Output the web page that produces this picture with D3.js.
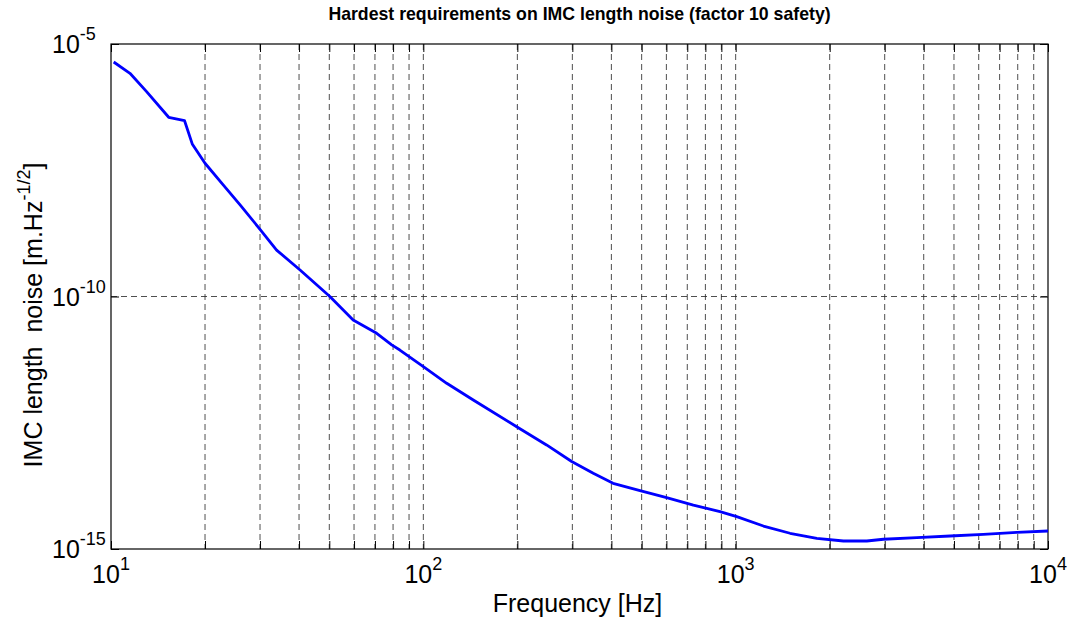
<!DOCTYPE html>
<html>
<head>
<meta charset="utf-8">
<script src="https://cdn.jsdelivr.net/npm/d3@7"></script>
<style>
  html, body { margin: 0; padding: 0; background: #fff; }
  svg { display: block; font-family: "Liberation Sans", Arial, sans-serif; }
</style>
</head>
<body>
<svg id="chart" width="1073" height="619"></svg>
<script>
const frequency = [10.2, 11.5, 13.0, 15.3, 17.2, 18.2, 20, 22.9, 25.9, 30, 33.9, 40.3, 50.2, 59.6, 70.9, 79.2, 84.1, 100, 118.8, 144.5, 199, 248, 298.5, 350, 405, 494, 601, 732, 891, 1008, 1227, 1493, 1819, 2213, 2630, 2972, 3802, 4860, 6210, 7943, 10000];
const noise = [4.4e-6, 2.63e-6, 1.14e-6, 3.54e-7, 3.03e-7, 1.05e-7, 4.35e-8, 1.61e-8, 6.5e-9, 2.14e-9, 8.3e-10, 3.35e-10, 1.0e-10, 3.43e-11, 1.87e-11, 1.10e-11, 8.7e-12, 4.1e-12, 1.91e-12, 8.9e-13, 2.64e-13, 1.15e-13, 5.4e-14, 3.15e-14, 2.0e-14, 1.43e-14, 1.04e-14, 7.4e-15, 5.5e-15, 4.37e-15, 2.85e-15, 2.05e-15, 1.63e-15, 1.44e-15, 1.44e-15, 1.56e-15, 1.68e-15, 1.81e-15, 1.95e-15, 2.14e-15, 2.27e-15];

const xMajorTicks = [10, 100, 1000, 10000];
const xMajorExp = ["1", "2", "3", "4"];
const xMinorTicks = [20, 30, 40, 50, 60, 70, 80, 90, 200, 300, 400, 500, 600, 700, 800, 900, 2000, 3000, 4000, 5000, 6000, 7000, 8000, 9000];
const yTicks = [1e-5, 1e-10, 1e-15];
const yTickExp = ["-5", "-10", "-15"];

const titleText = "Hardest requirements on IMC length noise (factor 10 safety)";
const xLabelText = "Frequency [Hz]";
const yLabelMain = "IMC length  noise [m.Hz";
const yLabelSup = "-1/2";
const yLabelEnd = "]";

const L = 111, T = 44, R = 1048, B = 549;
const svg = d3.select("#chart");

const x = d3.scaleLog().domain([10, 10000]).range([L, R]);
const y = d3.scaleLog().domain([1e-15, 1e-5]).range([B, T]);

const allX = xMinorTicks.concat(xMajorTicks.slice(1, 3));

// grid
const grid = svg.append("g").attr("stroke", "#222").attr("stroke-width", 0.8).attr("stroke-dasharray", "6,4").attr("fill", "none");
grid.selectAll("line.vx").data(allX).enter().append("line")
  .attr("x1", d => x(d)).attr("x2", d => x(d)).attr("y1", T).attr("y2", B);
grid.selectAll("line.hy").data([1e-10]).enter().append("line")
  .attr("x1", L).attr("x2", R).attr("y1", d => y(d)).attr("y2", d => y(d));

// ticks via d3 axes (inside)
const tickLen = 8;
const axB = d3.axisBottom(x).tickValues(xMajorTicks.concat(xMinorTicks)).tickSize(-tickLen).tickFormat("");
const axT = d3.axisTop(x).tickValues(xMajorTicks.concat(xMinorTicks)).tickSize(-tickLen).tickFormat("");
const axL = d3.axisLeft(y).tickValues(yTicks).tickSize(-tickLen).tickFormat("");
const axR = d3.axisRight(y).tickValues(yTicks).tickSize(-tickLen).tickFormat("");
[[axB, `translate(0,${B})`], [axT, `translate(0,${T})`], [axL, `translate(${L},0)`], [axR, `translate(${R},0)`]].forEach(([ax, tr]) => {
  const g = svg.append("g").attr("transform", tr).call(ax);
  g.select(".domain").remove();
  g.selectAll("line").attr("stroke", "#000").attr("stroke-width", 1);
});

// box
svg.append("rect").attr("x", L).attr("y", T).attr("width", R - L).attr("height", B - T)
  .attr("fill", "none").attr("stroke", "#000").attr("stroke-width", 1.2);

// line
const line = d3.line().x((d, i) => x(frequency[i])).y(d => y(d));
svg.append("path").datum(noise).attr("d", line).attr("fill", "none")
  .attr("stroke", "#0000ff").attr("stroke-width", 2.8).attr("stroke-linejoin", "round");

// x tick labels
const xl = svg.append("g").attr("font-size", 25).attr("fill", "#000");
xMajorTicks.forEach((v, i) => {
  const t = xl.append("text").attr("x", x(v)).attr("y", 583).attr("text-anchor", "middle");
  t.append("tspan").text("10");
  t.append("tspan").attr("font-size", 18).attr("dy", -13).text(xMajorExp[i]);
});

// y tick labels
const yl = svg.append("g").attr("font-size", 25).attr("fill", "#000");
yTicks.forEach((v, i) => {
  const t = yl.append("text").attr("x", 52).attr("y", y(v) + 9).attr("text-anchor", "start");
  t.append("tspan").text("10");
  t.append("tspan").attr("font-size", 18).attr("dy", -13).text(yTickExp[i]);
});

// title
svg.append("text").attr("x", (L + R) / 2).attr("y", 20).attr("text-anchor", "middle")
  .attr("font-size", 17.7).attr("font-weight", "bold").text(titleText);

// x label
svg.append("text").attr("x", (L + R) / 2 - 2).attr("y", 612).attr("text-anchor", "middle")
  .attr("font-size", 25).text(xLabelText);

// y label
const ylab = svg.append("text").attr("transform", `translate(42,315) rotate(-90)`).attr("text-anchor", "middle")
  .attr("font-size", 25).attr("xml:space", "preserve").style("white-space", "pre");
ylab.append("tspan").text(yLabelMain);
ylab.append("tspan").attr("font-size", 18).attr("dy", -12).text(yLabelSup);
ylab.append("tspan").attr("dy", 12).text(yLabelEnd);
</script>
</body>
</html>
